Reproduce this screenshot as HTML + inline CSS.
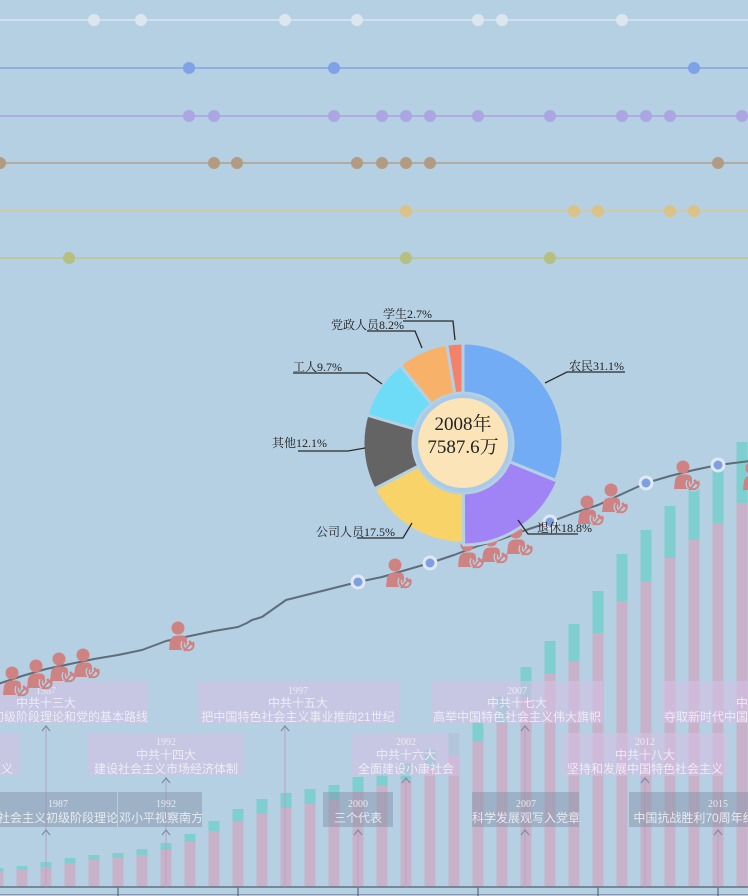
<!DOCTYPE html>
<html><head><meta charset="utf-8"><style>
html,body{margin:0;padding:0;background:#b5cfe3;}
svg{display:block;}
.bx{font-family:"Liberation Sans","Noto Sans CJK SC",sans-serif;font-size:12px;fill:#f2f2f7;fill-opacity:.88;text-anchor:middle;}
.yr{font-family:"Liberation Serif","Noto Serif CJK SC",serif;font-size:10px;fill:#f2f2f7;fill-opacity:.88;text-anchor:middle;}
.pl{font-family:"Liberation Serif","Noto Serif CJK SC",serif;font-size:12px;fill:#222;}
.ct{font-family:"Liberation Serif","Noto Serif CJK SC",serif;font-size:19px;fill:#222;text-anchor:middle;}
</style></head><body>
<svg width="748" height="896" viewBox="0 0 748 896" xmlns="http://www.w3.org/2000/svg">
<defs>
<g id="pm">
<circle cx="0" cy="0" r="6.5" fill="#cf8282"/>
<path d="M-9,22 L-8,13 C-7,9 -4,7.5 0,7.5 L4,7.5 C8,7.5 9,10 9,13 L9,22 Z" fill="#cf8282"/>
<path d="M5.5,14 A5.5,5.5 0 1 0 15,14" stroke="#b5cfe3" stroke-width="4.5" fill="none"/>
<path d="M6,23 L13,15" stroke="#b5cfe3" stroke-width="4.5"/>
<path d="M5.5,14 A5.5,5.5 0 1 0 15,14" stroke="#cf8282" stroke-width="2" fill="none"/>
<path d="M6,23 L13,15" stroke="#cf8282" stroke-width="2"/>
<path d="M11,13 L15,17" stroke="#cf8282" stroke-width="2.5"/>
</g>
</defs>
<rect width="748" height="896" fill="#b5cfe3"/>

<!-- top dot rows -->
<g>
<line x1="0" y1="20" x2="748" y2="20" stroke="#d9e6f1" stroke-width="1.6"/>
<g fill="#dce6ef"><circle cx="94" cy="20" r="6"/><circle cx="141" cy="20" r="6"/><circle cx="285" cy="20" r="6"/><circle cx="357" cy="20" r="6"/><circle cx="478" cy="20" r="6"/><circle cx="502" cy="20" r="6"/><circle cx="622" cy="20" r="6"/></g>
<line x1="0" y1="68" x2="748" y2="68" stroke="#89a9e4" stroke-width="1.8"/>
<g fill="#7fa2e6"><circle cx="189" cy="68" r="6"/><circle cx="334" cy="68" r="6"/><circle cx="694" cy="68" r="6"/></g>
<line x1="0" y1="116" x2="748" y2="116" stroke="#aca9e0" stroke-width="1.8"/>
<g fill="#aba6e2"><circle cx="189" cy="116" r="6"/><circle cx="214" cy="116" r="6"/><circle cx="334" cy="116" r="6"/><circle cx="382" cy="116" r="6"/><circle cx="406" cy="116" r="6"/><circle cx="430" cy="116" r="6"/><circle cx="478" cy="116" r="6"/><circle cx="550" cy="116" r="6"/><circle cx="622" cy="116" r="6"/><circle cx="646" cy="116" r="6"/><circle cx="670" cy="116" r="6"/><circle cx="742" cy="116" r="6"/></g>
<line x1="0" y1="163" x2="748" y2="163" stroke="#b0a08c" stroke-width="1.6"/>
<g fill="#b39b82"><circle cx="0" cy="163" r="6"/><circle cx="214" cy="163" r="6"/><circle cx="237" cy="163" r="6"/><circle cx="357" cy="163" r="6"/><circle cx="382" cy="163" r="6"/><circle cx="406" cy="163" r="6"/><circle cx="430" cy="163" r="6"/><circle cx="718" cy="163" r="6"/></g>
<line x1="0" y1="211" x2="748" y2="211" stroke="#d8c890" stroke-width="1.4"/>
<g fill="#dcc285"><circle cx="406" cy="211" r="6"/><circle cx="574" cy="211" r="6"/><circle cx="598" cy="211" r="6"/><circle cx="670" cy="211" r="6"/><circle cx="694" cy="211" r="6"/></g>
<line x1="0" y1="258" x2="748" y2="258" stroke="#bcc78a" stroke-width="1.6"/>
<g fill="#b5bf7e"><circle cx="69" cy="258" r="6"/><circle cx="406" cy="258" r="6"/><circle cx="550" cy="258" r="6"/></g>
</g>

<!-- bars -->
<g fill="#80cfd0">
<rect x="-7.5" y="868" width="11" height="3"/><rect x="16.5" y="866" width="11" height="3"/><rect x="40.5" y="862" width="11" height="5"/><rect x="64.5" y="858" width="11" height="5"/><rect x="88.5" y="855" width="11" height="5"/><rect x="112.5" y="853" width="11" height="5"/><rect x="136.5" y="849" width="11" height="6"/><rect x="160.5" y="843" width="11" height="7"/><rect x="184.5" y="834" width="11" height="8"/><rect x="208.5" y="821" width="11" height="10"/><rect x="232.5" y="809" width="11" height="12"/><rect x="256.5" y="799" width="11" height="14"/><rect x="280.5" y="793" width="11" height="15"/><rect x="304.5" y="789" width="11" height="15"/><rect x="328.5" y="785" width="11" height="14"/><rect x="352.5" y="777" width="11" height="15"/><rect x="376.5" y="773" width="11" height="13"/><rect x="400.5" y="763" width="11" height="16"/><rect x="424.5" y="750" width="11" height="17"/><rect x="448.5" y="733" width="11" height="23"/><rect x="472.5" y="723" width="11" height="18"/><rect x="496.5" y="697" width="11" height="26"/><rect x="520.5" y="667" width="11" height="31"/><rect x="544.5" y="641" width="11" height="33"/><rect x="568.5" y="624" width="11" height="37"/><rect x="592.5" y="591" width="11" height="42"/><rect x="616.5" y="554" width="11" height="47"/><rect x="640.5" y="530" width="11" height="51"/><rect x="664.5" y="506" width="11" height="52"/><rect x="688.5" y="487" width="11" height="53"/><rect x="712.5" y="465" width="11" height="58"/><rect x="736.5" y="442" width="11" height="61"/>
</g>
<g fill="#c8b2ca">
<rect x="-7.5" y="871" width="11" height="16"/><rect x="16.5" y="869" width="11" height="18"/><rect x="40.5" y="867" width="11" height="20"/><rect x="64.5" y="863" width="11" height="24"/><rect x="88.5" y="860" width="11" height="27"/><rect x="112.5" y="858" width="11" height="29"/><rect x="136.5" y="855" width="11" height="32"/><rect x="160.5" y="850" width="11" height="37"/><rect x="184.5" y="842" width="11" height="45"/><rect x="208.5" y="831" width="11" height="56"/><rect x="232.5" y="821" width="11" height="66"/><rect x="256.5" y="813" width="11" height="74"/><rect x="280.5" y="808" width="11" height="79"/><rect x="304.5" y="804" width="11" height="83"/><rect x="328.5" y="799" width="11" height="88"/><rect x="352.5" y="792" width="11" height="95"/><rect x="376.5" y="786" width="11" height="101"/><rect x="400.5" y="779" width="11" height="108"/><rect x="424.5" y="767" width="11" height="120"/><rect x="448.5" y="756" width="11" height="131"/><rect x="472.5" y="741" width="11" height="146"/><rect x="496.5" y="723" width="11" height="164"/><rect x="520.5" y="698" width="11" height="189"/><rect x="544.5" y="674" width="11" height="213"/><rect x="568.5" y="661" width="11" height="226"/><rect x="592.5" y="633" width="11" height="254"/><rect x="616.5" y="601" width="11" height="286"/><rect x="640.5" y="581" width="11" height="306"/><rect x="664.5" y="558" width="11" height="329"/><rect x="688.5" y="540" width="11" height="347"/><rect x="712.5" y="523" width="11" height="364"/><rect x="736.5" y="503" width="11" height="384"/>
</g>

<!-- axis -->
<line x1="0" y1="887" x2="748" y2="887" stroke="#5f7282" stroke-width="1.6"/>
<line x1="0" y1="894.5" x2="748" y2="894.5" stroke="#8596aa" stroke-width="1"/>
<g stroke="#5f7282" stroke-width="1.3">
<line x1="118" y1="887" x2="118" y2="896"/><line x1="238" y1="887" x2="238" y2="896"/><line x1="358" y1="887" x2="358" y2="896"/><line x1="478" y1="887" x2="478" y2="896"/><line x1="598" y1="887" x2="598" y2="896"/><line x1="718" y1="887" x2="718" y2="896"/>
</g>

<!-- event lines -->
<g stroke="#b7a2c4" stroke-width="1.1" opacity="0.9">
<line x1="46" y1="887" x2="46" y2="726"/><line x1="166" y1="887" x2="166" y2="778"/><line x1="285" y1="887" x2="285" y2="726"/><line x1="358" y1="887" x2="358" y2="830"/><line x1="406" y1="887" x2="406" y2="778"/><line x1="525" y1="887" x2="525" y2="726"/><line x1="645" y1="887" x2="645" y2="778"/><line x1="718" y1="887" x2="718" y2="830"/>
</g>

<!-- boxes upper -->
<g fill="rgb(212,192,228)" fill-opacity="0.58">
<rect x="-56" y="681" width="203" height="42"/>
<rect x="197" y="681" width="203" height="42"/>
<rect x="432" y="681" width="171" height="42"/>
<rect x="662" y="681" width="208" height="42"/>
<rect x="-170" y="733" width="190" height="43"/>
<rect x="88" y="733" width="155" height="43"/>
<rect x="352" y="733" width="108" height="43"/>
<rect x="562" y="733" width="166" height="43"/>
</g>
<g fill="rgb(128,142,162)" fill-opacity="0.45">
<rect x="-5" y="792" width="122" height="35"/>
<rect x="118" y="792" width="84" height="35"/>
<rect x="323" y="792" width="70" height="35"/>
<rect x="472" y="792" width="107" height="35"/>
<rect x="629" y="792" width="179" height="35"/>
</g>

<!-- box text -->
<text class="yr" x="46" y="694">1987</text>
<text class="bx" x="46" y="707">中共十三大</text>
<text class="bx" x="46" y="721">社会主义初级阶段理论和党的基本路线</text>
<text class="yr" x="298" y="694">1997</text>
<text class="bx" x="298" y="707">中共十五大</text>
<text class="bx" x="298" y="721">把中国特色社会主义事业推向21世纪</text>
<text class="yr" x="517" y="694">2007</text>
<text class="bx" x="517" y="707">中共十七大</text>
<text class="bx" x="517" y="721">高举中国特色社会主义伟大旗帜</text>
<text class="yr" x="766" y="694">2017</text>
<text class="bx" x="766" y="707">中共十九大</text>
<text class="bx" x="766" y="721">夺取新时代中国特色社会主义伟大胜利</text>

<text class="yr" x="-74" y="745">1982</text>
<text class="bx" x="-74" y="759">中共十二大</text>
<text class="bx" x="13" y="773" style="text-anchor:end">建设有中国特色社会主义</text>
<text class="yr" x="166" y="745">1992</text>
<text class="bx" x="166" y="759">中共十四大</text>
<text class="bx" x="166" y="773">建设社会主义市场经济体制</text>
<text class="yr" x="406" y="745">2002</text>
<text class="bx" x="406" y="759">中共十六大</text>
<text class="bx" x="406" y="773">全面建设小康社会</text>
<text class="yr" x="645" y="745">2012</text>
<text class="bx" x="645" y="759">中共十八大</text>
<text class="bx" x="645" y="773">坚持和发展中国特色社会主义</text>

<text class="yr" x="58" y="807">1987</text>
<text class="bx" x="58" y="822">社会主义初级阶段理论</text>
<text class="yr" x="166" y="807">1992</text>
<text class="bx" x="119" y="822" style="text-anchor:start">邓小平视察南方</text>
<text class="yr" x="358" y="807">2000</text>
<text class="bx" x="358" y="822">三个代表</text>
<text class="yr" x="526" y="807">2007</text>
<text class="bx" x="526" y="822">科学发展观写入党章</text>
<text class="yr" x="718" y="807">2015</text>
<text class="bx" x="718" y="822">中国抗战胜利70周年纪念大阅兵</text>

<!-- arrowheads -->
<g stroke="#7d8ca3" stroke-width="1.2" fill="none">
<polyline points="42,731 46,726 50,731"/><polyline points="42,835 46,830 50,835"/>
<polyline points="162,783 166,778 170,783"/><polyline points="162,835 166,830 170,835"/>
<polyline points="281,731 285,726 289,731"/><polyline points="354,835 358,830 362,835"/>
<polyline points="402,783 406,778 410,783"/><polyline points="521,731 525,726 529,731"/>
<polyline points="521,835 525,830 529,835"/><polyline points="641,783 645,778 649,783"/>
<polyline points="714,835 718,830 722,835"/>
</g>

<!-- line -->
<polyline fill="none" stroke="#5f6d79" stroke-width="2" stroke-linejoin="round" points="-2,684 22,676 46,669 70,664 94,659 118,655 142,650 166,641 190,636 214,631 238,627 247,623 252,620 262,617 286,600 310,594 334,588 358,582 382,577 406,570 430,563 454,555 478,546 502,539 526,530 550,522 574,513 598,505 622,494 646,483 670,476 694,470 718,465 742,462 750,461"/>
<g>
<circle cx="358" cy="582" r="7.5" fill="#dfe9f3"/><circle cx="358" cy="582" r="4.5" fill="#7f9fe2"/>
<circle cx="430" cy="563" r="7.5" fill="#dfe9f3"/><circle cx="430" cy="563" r="4.5" fill="#7f9fe2"/>
<circle cx="550" cy="522" r="7.5" fill="#dfe9f3"/><circle cx="550" cy="522" r="4.5" fill="#7f9fe2"/>
<circle cx="646" cy="483" r="7.5" fill="#dfe9f3"/><circle cx="646" cy="483" r="4.5" fill="#7f9fe2"/>
<circle cx="718" cy="465" r="7.5" fill="#dfe9f3"/><circle cx="718" cy="465" r="4.5" fill="#7f9fe2"/>
</g>

<!-- icons -->
<use href="#pm" transform="translate(12,673)"/>
<use href="#pm" transform="translate(36,666)"/>
<use href="#pm" transform="translate(59,659)"/>
<use href="#pm" transform="translate(83,655)"/>
<use href="#pm" transform="translate(178,628)"/>
<use href="#pm" transform="translate(395,565)"/>
<use href="#pm" transform="translate(467,545)"/>
<use href="#pm" transform="translate(491,540)"/>
<use href="#pm" transform="translate(516,532)"/>
<use href="#pm" transform="translate(587,502)"/>
<use href="#pm" transform="translate(611,490)"/>
<use href="#pm" transform="translate(683,467)"/>
<use href="#pm" transform="translate(752,468)"/>

<!-- pie -->
<g stroke="#b5cfe3" stroke-width="3" stroke-linejoin="round">
<path fill="#72acf4" d="M463,343 A100,100 0 0 1 555.75,480.4 L509.38,461.7 A50,50 0 0 0 463,393 Z"/>
<path fill="#a084f6" d="M557.6,481.2 A102,102 0 0 1 463.64,545 L463.31,493 A50,50 0 0 0 509.38,461.7 Z"/>
<path fill="#f8d468" d="M463.63,543 A100,100 0 0 1 374.18,488.97 L418.59,465.99 A50,50 0 0 0 463.31,493 Z"/>
<path fill="#646464" d="M374.18,488.97 A100,100 0 0 1 366.97,415.1 L414.99,429.05 A50,50 0 0 0 418.59,465.99 Z"/>
<path fill="#6edcf6" d="M366.97,415.1 A100,100 0 0 1 400.23,365.15 L431.62,404.08 A50,50 0 0 0 414.99,429.05 Z"/>
<path fill="#f8b168" d="M400.23,365.15 A100,100 0 0 1 446.74,344.33 L454.87,393.67 A50,50 0 0 0 431.62,404.08 Z"/>
<path fill="#f4826a" d="M446.74,344.33 A100,100 0 0 1 463,343 L463,393 A50,50 0 0 0 454.87,393.67 Z"/>
</g>
<circle cx="463" cy="443" r="49" fill="#a9cbea"/>
<circle cx="463" cy="443" r="45" fill="#fae4b8"/>
<text class="ct" x="463" y="430">2008年</text>
<text class="ct" x="463" y="453">7587.6万</text>

<!-- pie labels -->
<g stroke="#2a2a2a" stroke-width="1.3" fill="none">
<polyline points="545,383 567,372 625,372"/>
<polyline points="518,520 528,534 578,534"/>
<polyline points="412,523 403,538 357,538"/>
<polyline points="365,448 348,451 298,451"/>
<polyline points="382,384 367,373 293,373"/>
<polyline points="422,348 415,331 367,331"/>
<polyline points="455,340 453,321 403,321"/>
</g>
<text class="pl" x="569" y="370">农民31.1%</text>
<text class="pl" x="537" y="532">退休18.8%</text>
<text class="pl" x="316" y="536">公司人员17.5%</text>
<text class="pl" x="272" y="447">其他12.1%</text>
<text class="pl" x="293" y="371">工人9.7%</text>
<text class="pl" x="331" y="329">党政人员8.2%</text>
<text class="pl" x="383" y="318">学生2.7%</text>
</svg>
</body></html>
